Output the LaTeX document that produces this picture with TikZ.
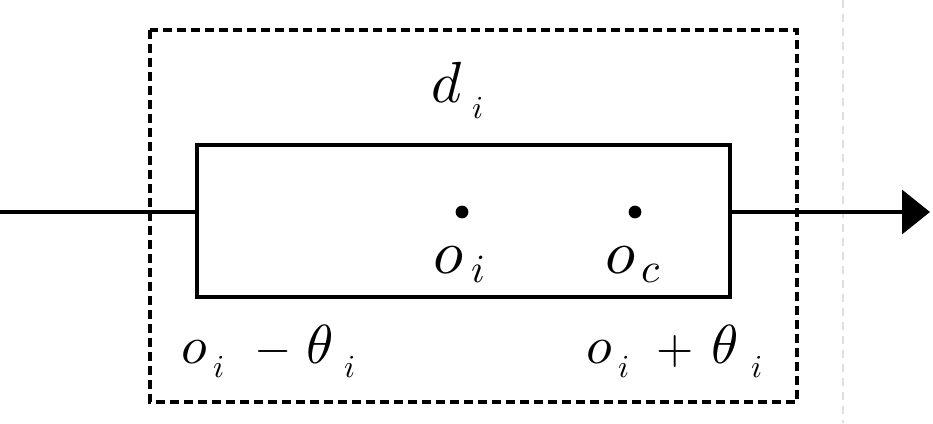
\documentclass[tikz,border=0pt]{standalone}
\usetikzlibrary{arrows.meta}
\tikzset{
  glyph/.style={inner sep=0pt, outer sep=0pt, anchor=base west},
  opsign/.style={inner sep=0pt, outer sep=0pt, anchor=base},
  dashbox/.style={line width=3.5pt, dash pattern=on 9pt off 5pt},
  solidbox/.style={line width=3.5pt},
  flow/.style={line width=3.5pt},
  dotmark/.style={circle, fill=black, inner sep=4.5pt, outer sep=0pt}
}
\newcommand{\mg}[2]{\scalebox{#1}{$#2$}}
\begin{document}
\begin{tikzpicture}[x=1pt,y=-1pt]
\useasboundingbox (0,0) rectangle (933,423);
% faint guide
\draw[gray!25, line width=1.5pt, dash pattern=on 8pt off 6pt] (843,0) -- (843,423);
% dashed outer box
\draw[dashbox] (150,30) rectangle (797,402);
% inner rectangle
\node[solidbox, draw, minimum width=533pt, minimum height=152pt, inner sep=0pt, anchor=north west] (rect) at (195,143) {};
% flow line
\coordinate (in) at (0,212);
\coordinate (tipend) at (930,212);
\draw[flow] (in) -- (in -| rect.west);
\draw[flow, -{Triangle[length=28pt,width=44pt]}] (tipend -| rect.east) -- (tipend);
% points
\node[dotmark] (pi) at (462,212) {};
\node[dotmark] (pc) at (635,212) {};
% labels
\node[glyph] (d) at (431,102) {\mg{5.8}{d}};
\node[glyph] (dsub) at (472,118) {\mg{3.2}{i}};
\node[glyph] (oi) at (433,273) {\mg{6.2}{o}};
\node[glyph] (oisub) at (471,282) {\mg{4.0}{i}};
\node[glyph] (oc) at (605,273) {\mg{6.2}{o}};
\node[glyph] (ocsub) at (641,282) {\mg{4.2}{c}};
% lower bound
\node[glyph] (lo) at (181,363) {\mg{5.3}{o}};
\node[glyph] (losub) at (213,377) {\mg{3.2}{i}};
\node[opsign] (minus) at (273,363) {\mg{4.8}{-}};
\node[glyph] (lth) at (306,363) {\mg{5.5}{\theta}};
\node[glyph] (lthsub) at (344,377) {\mg{3.2}{i}};
% upper bound
\node[glyph] (uo) at (586,363) {\mg{5.3}{o}};
\node[glyph] (uosub) at (618,377) {\mg{3.2}{i}};
\node[opsign] (plus) at (675,363) {\mg{4.8}{+}};
\node[glyph] (uth) at (711,363) {\mg{5.5}{\theta}};
\node[glyph] (uthsub) at (751,377) {\mg{3.2}{i}};
\end{tikzpicture}
\end{document}
